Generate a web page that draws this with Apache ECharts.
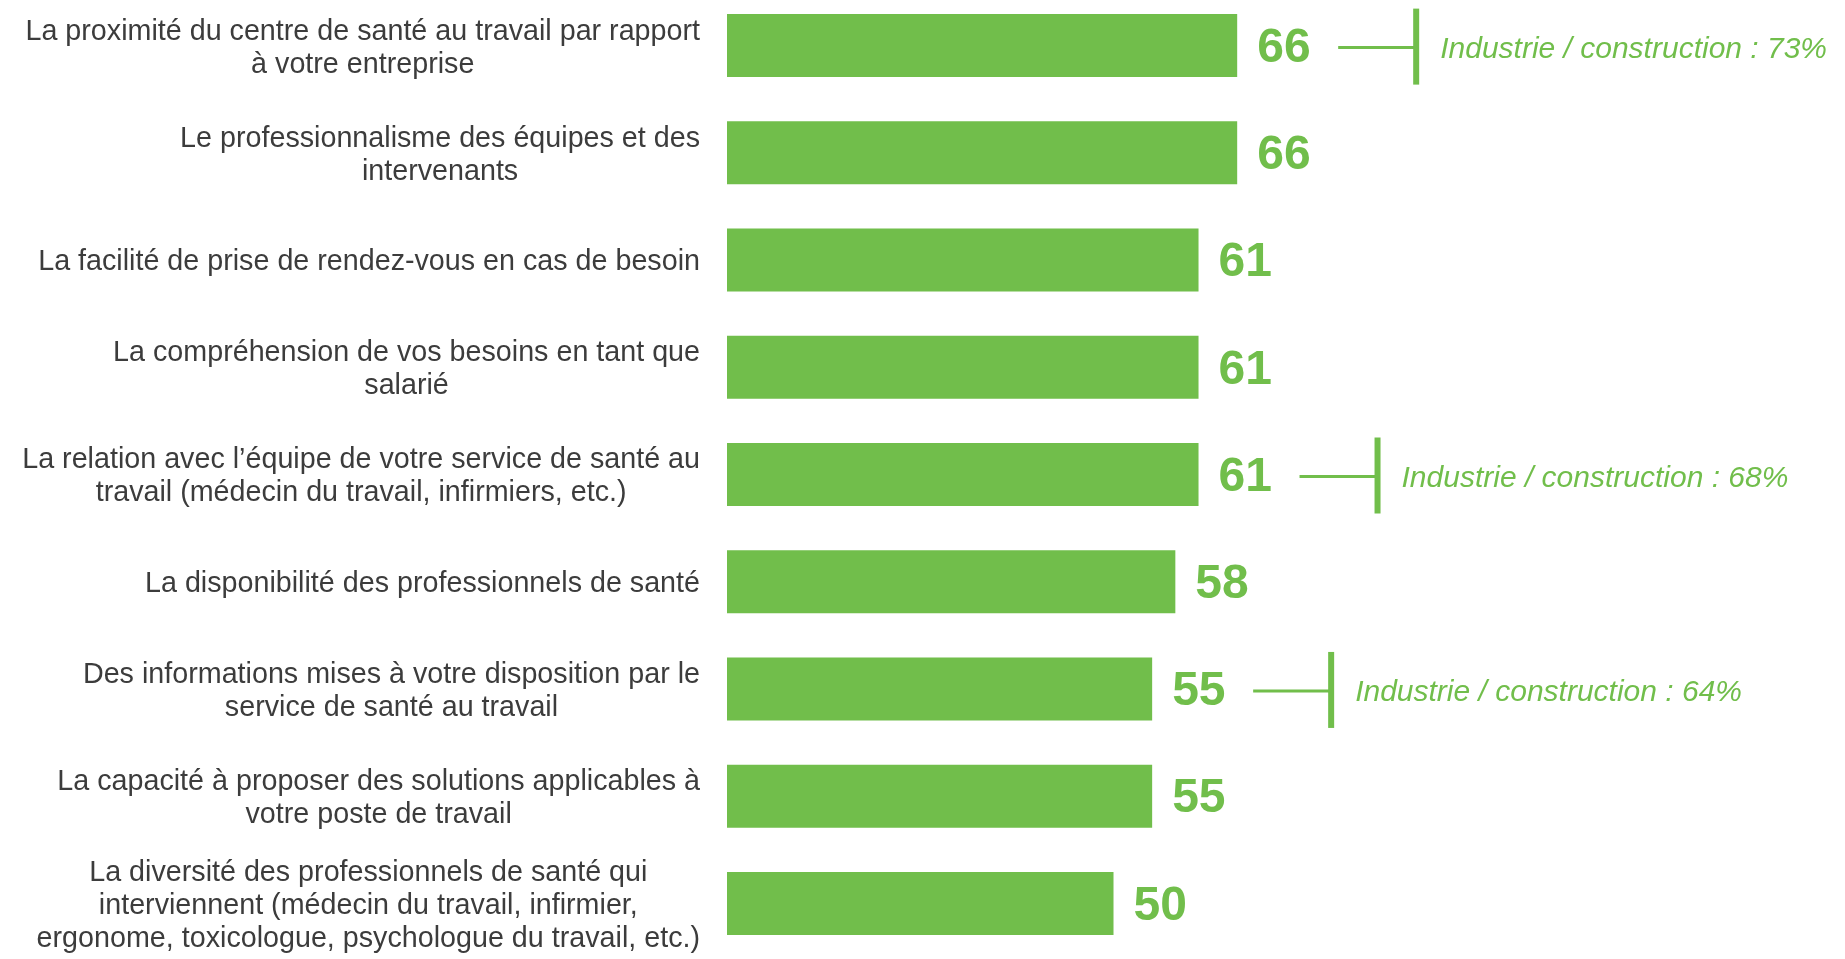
<!DOCTYPE html>
<html>
<head>
<meta charset="utf-8">
<script src="https://cdn.jsdelivr.net/npm/echarts@6/dist/echarts.min.js"></script>
<style>
html,body{margin:0;padding:0;background:#fff;}
#chart{width:1845px;height:959px;}
</style>
</head>
<body>
<div id="chart"></div>
<script>
const categories = [
  "La proximité du centre de santé au travail par rapport\nà votre entreprise",
  "Le professionnalisme des équipes et des\nintervenants",
  "La facilité de prise de rendez-vous en cas de besoin",
  "La compréhension de vos besoins en tant que\nsalarié",
  "La relation avec l’équipe de votre service de santé au\ntravail (médecin du travail, infirmiers, etc.)",
  "La disponibilité des professionnels de santé",
  "Des informations mises à votre disposition par le\nservice de santé au travail",
  "La capacité à proposer des solutions applicables à\nvotre poste de travail",
  "La diversité des professionnels de santé qui\ninterviennent (médecin du travail, infirmier,\nergonome, toxicologue, psychologue du travail, etc.)"
];
const values = [66, 66, 61, 61, 61, 58, 55, 55, 50];
const industryLabel = "Industrie / construction";
const industryValues = [73, null, null, null, 68, null, 64, null, null];

const GREEN = '#71BE4B';
const TEXT = '#3c3c3c';
const FONT = '"Liberation Sans", Arial, sans-serif';

const annotData = [];
industryValues.forEach((v, i) => {
  if (v != null) annotData.push([values[i], i, v]);
});

const chart = echarts.init(document.getElementById('chart'));
chart.setOption({
  animation: false,
  grid: { left: 727, right: 345, top: -8, bottom: 2, containLabel: false, outerBoundsMode: 'none' },
  xAxis: { type: 'value', min: 0, max: 100, show: false },
  yAxis: {
    type: 'category', data: categories, inverse: true,
    axisLine: { show: false }, axisTick: { show: false },
    axisLabel: {
      margin: 27, align: 'right', padding: [5, 0, 0, 0],
      fontFamily: FONT, fontSize: 28.7, color: TEXT, lineHeight: 33,
      formatter: function (s) { return s.split('\n').map(l => '{c|' + l + '}').join('\n'); },
      rich: { c: { align: 'center', fontFamily: FONT, fontSize: 28.7, color: TEXT, lineHeight: 33 } }
    }
  },
  series: [
    {
      type: 'bar', data: values, barWidth: 63,
      itemStyle: { color: GREEN },
      label: {
        show: true, position: 'right', distance: 20, offset: [0, 3],
        fontFamily: FONT, fontWeight: 'bold', fontSize: 48, color: GREEN
      }
    },
    {
      type: 'custom',
      data: annotData,
      encode: { x: 0, y: 1 },
      renderItem: function (params, api) {
        const p = api.coord([api.value(0), api.value(1)]);
        const x0 = p[0] + 101, x1 = p[0] + 179, y = p[1];
        return {
          type: 'group',
          children: [
            { type: 'line', shape: { x1: x0, y1: y + 2, x2: x1, y2: y + 2 }, style: { stroke: GREEN, lineWidth: 3 } },
            { type: 'line', shape: { x1: x1, y1: y - 37, x2: x1, y2: y + 39 }, style: { stroke: GREEN, lineWidth: 6 } },
            { type: 'text', x: x1 + 24, y: y + 4, style: {
                text: industryLabel + ' : ' + api.value(2) + '%',
                fill: GREEN, fontSize: 30, fontStyle: 'italic',
                fontFamily: FONT,
                verticalAlign: 'middle', align: 'left'
            } }
          ]
        };
      }
    }
  ]
});
</script>
</body>
</html>
